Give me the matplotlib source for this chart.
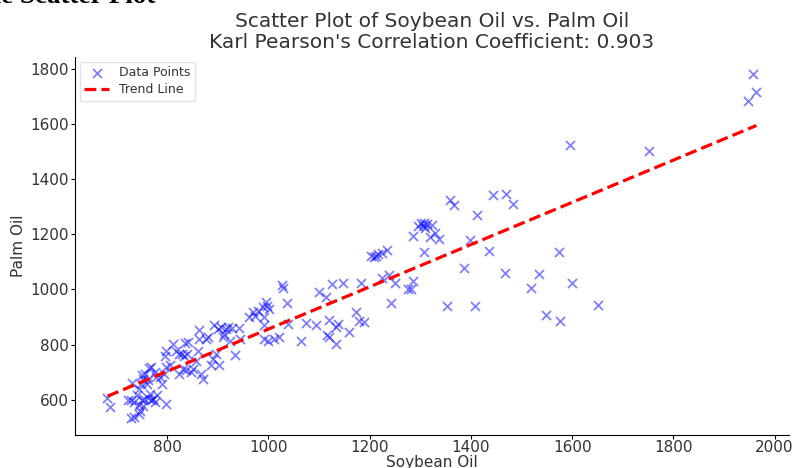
import numpy as np
import matplotlib
matplotlib.use('Agg')
import matplotlib.pyplot as plt

# values
soybean = [682, 688, 722, 728, 734, 729, 734, 744, 747, 752, 745, 750, 755, 740, 745,
           731, 749, 752, 760, 751, 757, 764, 768, 762, 766, 762, 768, 775, 780, 772,
           785, 789, 793, 798, 795, 797, 805, 797, 778, 775, 811, 818, 824, 830, 834,
           839, 836, 841, 823, 832, 837, 847, 851, 857, 860, 862, 862, 867, 870, 876,
           880, 887, 890, 893, 897, 900, 903, 906, 910, 913, 916, 920, 924, 928, 934,
           941, 943, 962, 969, 973, 979, 989, 992, 995, 998, 1002, 992, 992, 1000, 1011,
           1021, 1027, 1029, 1036, 1039, 1064, 1074, 1095, 1099, 1113, 1115, 1119, 1120, 1125, 1133,
           1134, 1138, 1147, 1159, 1174, 1178, 1182, 1189, 1202, 1209, 1213, 1217, 1224, 1235,
           1224, 1239, 1243, 1250, 1276,
           1285, 1295, 1301, 1305, 1308, 1310, 1314, 1324, 1319, 1330, 1337, 1308, 1285, 1282,
           1352, 1359, 1367, 1387, 1399, 1409, 1412, 1435, 1443, 1468, 1470, 1484, 1518, 1534,
           1548, 1574, 1576, 1596, 1599, 1652, 1752, 1958, 1964, 1948]
palm = [607, 574, 598, 600, 592, 534, 537, 549, 559, 576, 580, 598, 604, 616, 640,
        660, 658, 676, 658, 688, 694, 716, 720, 672, 622, 607, 598, 592, 616, 604,
        682, 658, 694, 718, 760, 778, 724, 583, 682, 700, 802, 778, 766, 766, 760,
        766, 805, 808, 694, 712, 706, 700, 712, 742, 778, 820, 853, 694, 676, 820,
        827, 724, 748, 872, 766, 857, 724, 863, 827, 839, 857, 863, 814, 860, 763,
        860, 820, 899, 917, 905, 923, 935, 899, 953, 941, 929, 872, 820, 814, 820,
        827, 1017, 1007, 949, 875, 812, 878, 872, 989, 971, 833, 890, 829, 1019, 802,
        863, 875, 1025, 845, 919, 884, 1025, 883, 1122, 1118, 1122, 1128, 1131, 1142,
        1043, 1052, 949, 1022, 1001,
        1194, 1230, 1242, 1230, 1242, 1224, 1236, 1234, 1192, 1206, 1184, 1136, 1030, 1000,
        941, 1326, 1305, 1078, 1181, 939, 1269, 1141, 1341, 1061, 1347, 1311, 1004, 1057,
        908, 1136, 887, 1523, 1025, 945, 1501, 1781, 1718, 1684]

title = "Scatter Plot of Soybean Oil vs. Palm Oil\nKarl Pearson's Correlation Coefficient: 0.903"
text_color = '#333333'

x = np.array(soybean)
y = np.array(palm)
slope, intercept = np.polyfit(x, y, 1)
x_line = np.array([x.min(), x.max()])

fig = plt.figure(figsize=(7.96, 4.68), dpi=100)
ax = fig.add_axes([0.0942, 0.0705, 0.8968, 0.8075])

ax.scatter(x, y, marker='x', color='blue', alpha=0.5, s=42, linewidths=1.3,
           label='Data Points')
ax.plot(x_line, slope * x_line + intercept, color='red', linestyle='--',
        linewidth=2.3, label='Trend Line')

ax.set_title(title, fontsize=14.5, color=text_color, pad=6.5, linespacing=1.15)
ax.set_xlabel('Soybean Oil', fontsize=11, color=text_color, labelpad=0)
ax.set_ylabel('Palm Oil', fontsize=11, color=text_color, labelpad=3)
ax.tick_params(labelsize=11, labelcolor=text_color, length=3, pad=1.5, direction='out')
ax.tick_params(axis='x', pad=0.5)
ax.set_xticks([800, 1000, 1200, 1400, 1600, 1800, 2000])
ax.set_yticks([600, 800, 1000, 1200, 1400, 1600, 1800])
ax.spines['top'].set_visible(False)
ax.spines['right'].set_visible(False)

leg = ax.legend(loc='upper left', fontsize=9, frameon=True, borderaxespad=0.4,
                labelspacing=0.3, borderpad=0.35)
leg.get_frame().set_edgecolor('#dddddd')
for t in leg.get_texts():
    t.set_color(text_color)

# cut-off heading from the page the chart was taken from
fig.text(155 / 796, 1 - 3 / 468, 'The Scatter Plot', ha='right', va='baseline',
         fontsize=19.5, fontweight='bold', family='Liberation Serif', color='black')

fig.savefig('out.png', dpi=100)
